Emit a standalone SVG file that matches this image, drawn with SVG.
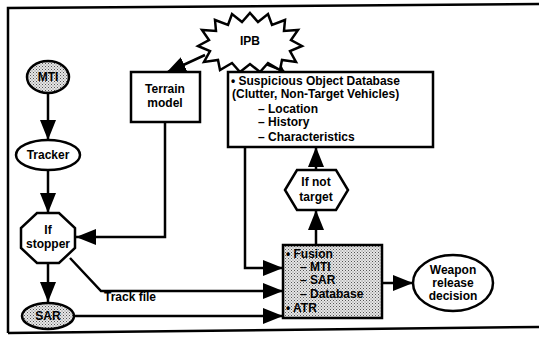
<svg xmlns="http://www.w3.org/2000/svg" width="539" height="339" viewBox="0 0 539 339">
<defs>
<pattern id="dots" width="3" height="3" patternUnits="userSpaceOnUse">
<rect width="3" height="3" fill="#e6e6e6"/>
<rect x="0" y="0" width="1" height="1" fill="#555"/>
<rect x="1.5" y="1.5" width="1" height="1" fill="#777"/>
</pattern>
<marker id="ah" markerUnits="userSpaceOnUse" markerWidth="22" markerHeight="16" refX="20" refY="8" orient="auto">
<path d="M0,0 L20,8 L0,16 z" fill="#000"/>
</marker>
<style>
.t{font-family:"Liberation Sans",Arial,sans-serif;font-weight:bold;font-size:12px;fill:#000}
.c{text-anchor:middle}
.s{stroke:#000;stroke-width:2.5;fill:#fff}
.g{stroke:#000;stroke-width:2.5;fill:url(#dots)}
.l{stroke:#000;stroke-width:2.5;fill:none;marker-end:url(#ah)}
</style>
</defs>
<rect width="539" height="339" fill="#fff"/>
<g id="frame" stroke="#000" stroke-width="2.5" fill="none">
<path d="M8,333 L8,8 L539,4"/>
<path d="M8,333 L539,327"/>
</g>
<g id="connectors">
<path class="l" d="M205,55 L166,73"/>
<path class="l" d="M266,55 L285,73"/>
<path class="l" d="M48,93 L48,140"/>
<path class="l" d="M48,170 L48,213"/>
<path class="l" d="M48,262 L48,302"/>
<path class="l" d="M165,122 L165,237 L76,237"/>
<path class="l" d="M245,147 L245,268 L283,268"/>
<path class="l" d="M70,258 L101,291 L283,291"/>
<path class="l" d="M74,316 L283,316"/>
<path class="l" d="M316,245 L316,210"/>
<path class="l" d="M316,170 L316,147"/>
<path class="l" d="M382,283 L413,283"/>
</g>
<g id="ipb">
<polygon class="s" points="250,13 258,22 268,14 272,25 285,20 284,31 298,30 291,40 302,46 290,51 296,62 282,60 280,70 268,63 260,72 250,64 240,72 232,63 220,70 218,60 204,62 210,51 198,46 209,40 202,30 216,31 215,20 228,25 232,14 242,22"/>
<text class="t c" x="250" y="45">IPB</text>
</g>
<g id="terrain">
<rect class="s" x="131" y="72" width="69" height="50"/>
<text class="t c" x="165" y="93">Terrain</text>
<text class="t c" x="165" y="107">model</text>
</g>
<g id="database">
<rect class="s" x="228" y="72" width="205" height="75"/>
<text class="t" x="231" y="85">• Suspicious Object Database</text>
<text class="t" x="232" y="98">(Clutter, Non-Target Vehicles)</text>
<text class="t" x="258" y="113">– Location</text>
<text class="t" x="258" y="126">– History</text>
<text class="t" x="258" y="141">– Characteristics</text>
</g>
<g id="mti">
<ellipse class="g" cx="48" cy="77" rx="21" ry="16"/>
<text class="t c" x="48" y="81">MTI</text>
</g>
<g id="tracker">
<ellipse class="s" cx="48" cy="155" rx="32" ry="15"/>
<text class="t c" x="48" y="159">Tracker</text>
</g>
<g id="stopper">
<polygon class="s" points="37,213 59,213 75,228 75,248 59,263 37,263 21,248 21,228"/>
<text class="t c" x="48" y="234">If</text>
<text class="t c" x="48" y="248">stopper</text>
</g>
<g id="sar">
<ellipse class="g" cx="48" cy="316" rx="26" ry="13"/>
<text class="t c" x="48" y="320">SAR</text>
</g>
<text class="t" x="104" y="301">Track file</text>
<g id="notarget">
<polygon class="s" points="285,190 297,170 336,170 348,190 336,210 297,210"/>
<text class="t c" x="316" y="186">If not</text>
<text class="t c" x="316" y="201">target</text>
</g>
<g id="fusion">
<rect class="g" x="283" y="245" width="99" height="73"/>
<text class="t" x="286" y="258">• Fusion</text>
<text class="t" x="300" y="271">– MTI</text>
<text class="t" x="300" y="284">– SAR</text>
<text class="t" x="300" y="298">– Database</text>
<text class="t" x="286" y="312">• ATR</text>
</g>
<g id="weapon">
<ellipse class="s" cx="453" cy="283" rx="40" ry="28"/>
<text class="t c" x="453" y="274">Weapon</text>
<text class="t c" x="453" y="287">release</text>
<text class="t c" x="453" y="300">decision</text>
</g>
</svg>
